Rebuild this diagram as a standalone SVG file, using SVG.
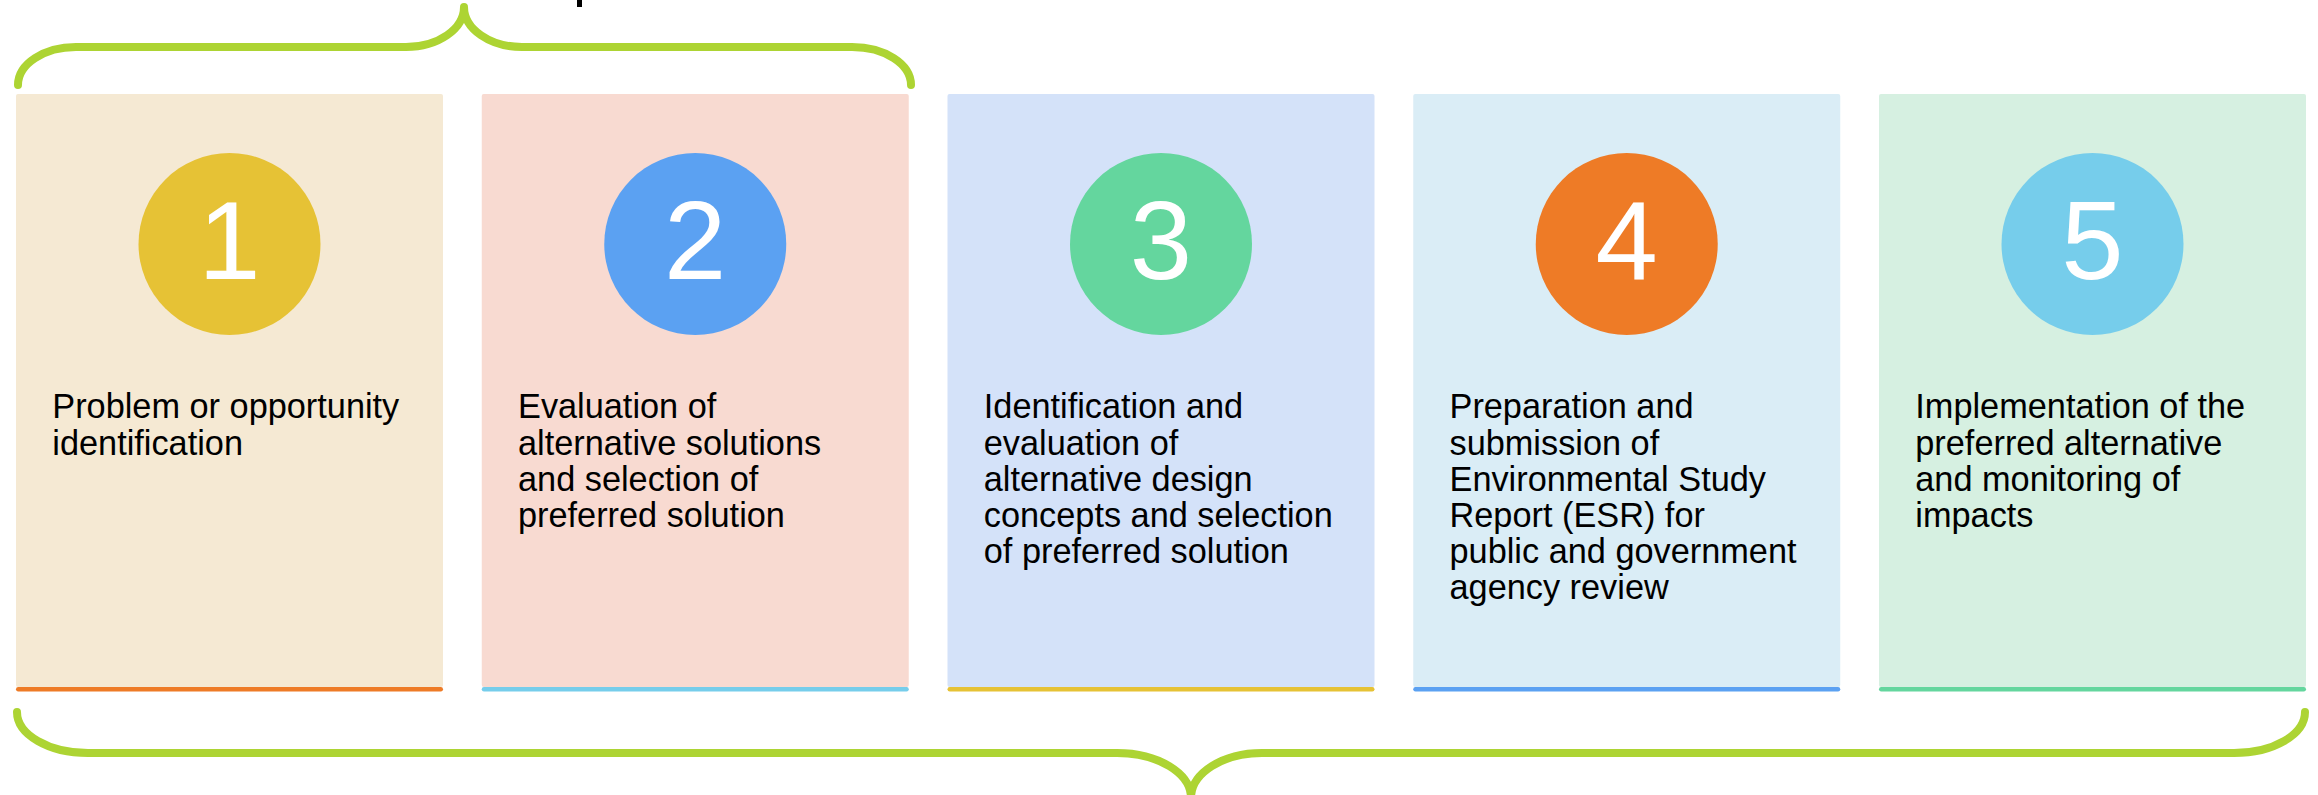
<svg xmlns="http://www.w3.org/2000/svg" width="2318" height="795" viewBox="0 0 2318 795">
<style>
.card{stroke:none}
.bar{stroke:none}
.num{font-family:"Liberation Sans",Arial,sans-serif;font-size:112px;fill:#ffffff;text-anchor:middle}
.lbl{font-family:"Liberation Sans",Arial,sans-serif;font-size:34.3px;fill:#000000}
.brace{fill:none;stroke:#ADD433;stroke-width:8;stroke-linecap:round;stroke-linejoin:round}
</style>
<rect x="0" y="0" width="2318" height="795" fill="#ffffff"/>
<rect x="577" y="0" width="5" height="7" fill="#000000"/>
<g id="connectors">
<path class="brace" d="M18,85 A58,38 0 0 1 76,47 L406,47 A58,40 0 0 0 464,7 A58,40 0 0 0 522,47 L852,47 A59,38 0 0 1 911,85"/>
<path class="brace" d="M17,712 A71,41 0 0 0 88,753 L1117,753 A74,45 0 0 1 1191,798 A71,45 0 0 1 1262,753 L2234,753 A71,41 0 0 0 2305,712"/>
</g>
<g id="step1">
<rect class="card" x="16" y="94" width="427" height="593" rx="2" fill="#F5E9D3"/>
<rect class="bar" x="16" y="687" width="427" height="4.5" rx="2.2" fill="#EE7B26"/>
<circle cx="229.5" cy="244" r="91" fill="#E6C235"/>
<text class="num" x="229.5" y="279">1</text>
<text class="lbl" x="52.3" y="418.3">Problem or opportunity</text>
<text class="lbl" x="52.3" y="454.8">identification</text>
</g>
<g id="step2">
<rect class="card" x="481.75" y="94" width="427" height="593" rx="2" fill="#F8DAD1"/>
<rect class="bar" x="481.75" y="687" width="427" height="4.5" rx="2.2" fill="#76CDEB"/>
<circle cx="695.25" cy="244" r="91" fill="#5BA1F2"/>
<text class="num" x="695.25" y="279">2</text>
<text class="lbl" x="518" y="418.3">Evaluation of</text>
<text class="lbl" x="518" y="454.5">alternative solutions</text>
<text class="lbl" x="518" y="490.7">and selection of</text>
<text class="lbl" x="518" y="526.9">preferred solution</text>
</g>
<g id="step3">
<rect class="card" x="947.5" y="94" width="427" height="593" rx="2" fill="#D4E2F9"/>
<rect class="bar" x="947.5" y="687" width="427" height="4.5" rx="2.2" fill="#E6C235"/>
<circle cx="1161" cy="244" r="91" fill="#64D69E"/>
<text class="num" x="1161" y="279">3</text>
<text class="lbl" x="983.8" y="418.3">Identification and</text>
<text class="lbl" x="983.8" y="454.5">evaluation of</text>
<text class="lbl" x="983.8" y="490.7">alternative design</text>
<text class="lbl" x="983.8" y="526.9">concepts and selection</text>
<text class="lbl" x="983.8" y="563.1">of preferred solution</text>
</g>
<g id="step4">
<rect class="card" x="1413.25" y="94" width="427" height="593" rx="2" fill="#DAEDF6"/>
<rect class="bar" x="1413.25" y="687" width="427" height="4.5" rx="2.2" fill="#5BA1F2"/>
<circle cx="1626.75" cy="244" r="91" fill="#EE7B26"/>
<text class="num" x="1626.75" y="279">4</text>
<text class="lbl" x="1449.5" y="418.3">Preparation and</text>
<text class="lbl" x="1449.5" y="454.5">submission of</text>
<text class="lbl" x="1449.5" y="490.7">Environmental Study</text>
<text class="lbl" x="1449.5" y="526.9">Report (ESR) for</text>
<text class="lbl" x="1449.5" y="563.1">public and government</text>
<text class="lbl" x="1449.5" y="599.3">agency review</text>
</g>
<g id="step5">
<rect class="card" x="1879" y="94" width="427" height="593" rx="2" fill="#D6F0E1"/>
<rect class="bar" x="1879" y="687" width="427" height="4.5" rx="2.2" fill="#64D69E"/>
<circle cx="2092.5" cy="244" r="91" fill="#76CDEB"/>
<text class="num" x="2092.5" y="279">5</text>
<text class="lbl" x="1915.3" y="418.3">Implementation of the</text>
<text class="lbl" x="1915.3" y="454.5">preferred alternative</text>
<text class="lbl" x="1915.3" y="490.7">and monitoring of</text>
<text class="lbl" x="1915.3" y="526.9">impacts</text>
</g>
</svg>
